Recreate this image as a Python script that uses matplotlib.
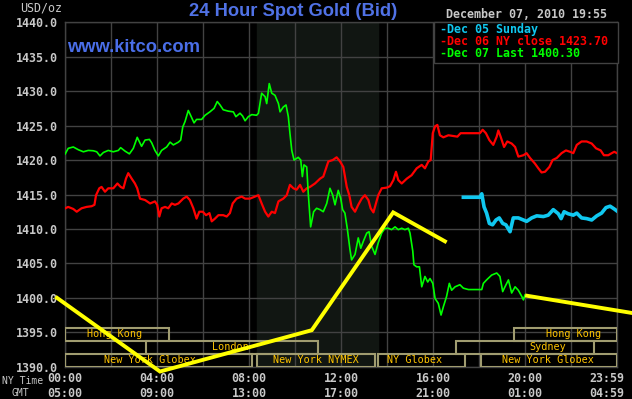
import matplotlib
matplotlib.use('Agg')
import matplotlib.pyplot as plt
import matplotlib.transforms as mtransforms
from matplotlib.patches import Rectangle

# Dec 07 (green), hours NY time vs price
green_h = [0.01, 0.14, 0.36, 0.58, 0.80, 1.01, 1.23, 1.38, 1.52, 1.67, 1.88, 2.10, 2.32, 2.42,
           2.61, 2.80, 2.97, 3.14, 3.33, 3.48, 3.67, 3.77, 3.91, 4.06, 4.20, 4.42, 4.57, 4.71,
           4.93, 5.03, 5.12, 5.22, 5.36, 5.46, 5.61, 5.72, 5.94, 6.09, 6.30, 6.48, 6.62, 6.74,
           6.88, 7.10, 7.32, 7.43, 7.61, 7.72, 7.83, 7.97, 8.12, 8.33, 8.41, 8.55, 8.70, 8.77,
           8.88, 8.99, 9.13, 9.28, 9.35, 9.49, 9.61, 9.71, 9.78, 9.86, 9.96, 10.14, 10.25, 10.32,
           10.39, 10.51, 10.58, 10.68, 10.81, 10.94, 11.09, 11.23, 11.38, 11.52, 11.64, 11.74,
           11.88, 11.99, 12.07, 12.17, 12.28, 12.39, 12.46, 12.61, 12.75, 12.86, 12.97, 13.12,
           13.22, 13.33, 13.48, 13.62, 13.77, 13.91, 14.06, 14.20, 14.35, 14.49, 14.64, 14.78,
           14.93, 15.00, 15.12, 15.17, 15.29, 15.41, 15.51, 15.65, 15.77, 15.87, 15.99, 16.09,
           16.23, 16.35, 16.45, 16.59, 16.71, 16.81, 16.96, 17.17, 17.32, 17.54, 17.75, 18.12,
           18.19, 18.33, 18.55, 18.77, 18.91, 19.03, 19.13, 19.28, 19.42, 19.57, 19.71, 19.86,
           19.93, 20.00]
green_p = [1420.9, 1421.7, 1421.9, 1421.5, 1421.2, 1421.4, 1421.35, 1421.2, 1420.6, 1421.1,
           1421.4, 1421.2, 1421.4, 1421.8, 1421.3, 1420.9, 1421.7, 1423.3, 1422.0, 1422.9,
           1423.0, 1422.5, 1421.4, 1420.6, 1421.4, 1421.9, 1422.6, 1422.2, 1422.6, 1422.9,
           1424.8, 1425.6, 1427.2, 1426.5, 1425.4, 1425.9, 1425.9, 1426.5, 1427.0, 1427.5,
           1428.5, 1428.0, 1427.3, 1427.1, 1427.0, 1426.3, 1426.8, 1426.4, 1425.7, 1426.3,
           1426.6, 1426.5, 1426.8, 1429.7, 1429.2, 1428.2, 1431.1, 1429.7, 1429.4, 1428.2,
           1427.0, 1427.7, 1428.0, 1426.3, 1423.9, 1421.4, 1420.0, 1420.4, 1420.0, 1417.6,
           1419.3, 1419.0, 1415.0, 1410.3, 1412.5, 1413.0, 1412.8, 1412.5, 1413.7, 1415.9,
           1414.9, 1413.5, 1415.6, 1414.4, 1412.8, 1412.3, 1409.9, 1407.0, 1405.5, 1406.3,
           1408.7, 1407.2, 1408.2, 1409.4, 1409.6, 1407.5, 1406.3, 1408.0, 1409.4, 1410.1,
           1410.1, 1409.9, 1410.3, 1409.9, 1410.1, 1409.9, 1410.1, 1409.4, 1406.8, 1404.8,
           1404.5, 1404.5, 1401.6, 1403.1, 1402.3, 1402.8, 1402.1, 1399.9, 1399.2, 1397.5,
           1398.7, 1400.2, 1402.1, 1401.1, 1401.6, 1401.9, 1401.4, 1401.2, 1401.2, 1401.2,
           1402.1, 1402.6, 1403.3, 1403.6, 1403.1, 1400.9, 1401.6, 1402.6, 1400.7, 1401.6,
           1401.1, 1400.2, 1399.7, 1400.4]

# Dec 06 (red)
red_h = [0.01, 0.14, 0.36, 0.51, 0.72, 0.94, 1.16, 1.28, 1.35, 1.49, 1.59, 1.74, 1.88, 2.10,
         2.28, 2.42, 2.54, 2.65, 2.75, 2.90, 3.04, 3.14, 3.26, 3.48, 3.70, 3.91, 4.01, 4.10,
         4.20, 4.35, 4.49, 4.64, 4.78, 4.93, 5.14, 5.29, 5.43, 5.58, 5.72, 5.84, 5.99, 6.13,
         6.28, 6.38, 6.52, 6.67, 6.88, 7.03, 7.17, 7.29, 7.46, 7.68, 7.83, 8.04, 8.26, 8.41,
         8.55, 8.70, 8.84, 8.99, 9.13, 9.28, 9.49, 9.64, 9.78, 9.93, 10.07, 10.22, 10.36, 10.51,
         10.65, 10.87, 11.09, 11.23, 11.35, 11.45, 11.64, 11.81, 11.96, 12.10, 12.25, 12.36,
         12.46, 12.61, 12.75, 12.90, 13.04, 13.19, 13.29, 13.41, 13.52, 13.62, 13.77, 13.99,
         14.13, 14.28, 14.39, 14.49, 14.64, 14.86, 15.07, 15.29, 15.51, 15.65, 15.80, 15.90,
         15.99, 16.09, 16.19, 16.30, 16.45, 16.67, 16.88, 17.06, 17.20, 17.46, 17.75, 18.04,
         18.16, 18.30, 18.45, 18.62, 18.77, 18.84, 18.94, 19.09, 19.23, 19.42, 19.57, 19.71,
         19.93, 20.07, 20.22, 20.43, 20.58, 20.72, 20.87, 21.06, 21.20, 21.38, 21.59, 21.78,
         21.96, 22.10, 22.25, 22.46, 22.68, 22.90, 23.09, 23.29, 23.43, 23.62, 23.77, 23.88,
         24.0]
red_p = [1413.0, 1413.2, 1412.9, 1412.5, 1413.0, 1413.2, 1413.3, 1413.5, 1414.9, 1415.9,
         1416.1, 1415.4, 1415.9, 1415.9, 1416.6, 1416.1, 1415.9, 1417.3, 1418.1, 1417.3,
         1416.6, 1415.9, 1414.4, 1414.2, 1413.7, 1414.0, 1413.5, 1411.8, 1413.0, 1413.2,
         1413.0, 1413.7, 1413.5, 1413.7, 1414.4, 1414.7, 1414.2, 1413.0, 1411.5, 1412.5,
         1412.5, 1412.0, 1412.3, 1411.1, 1411.5, 1412.0, 1412.0, 1411.8, 1412.3, 1413.7,
         1414.4, 1414.7, 1414.4, 1414.4, 1414.7, 1414.9, 1413.7, 1412.5, 1411.8, 1412.5,
         1412.3, 1414.0, 1414.4, 1414.9, 1416.4, 1415.9, 1415.7, 1416.4, 1415.4, 1415.9,
         1416.1, 1416.6, 1417.3, 1417.6, 1418.8, 1419.8, 1420.0, 1420.4, 1419.8, 1419.0,
         1416.1, 1414.9, 1413.2, 1412.5, 1413.5, 1414.4, 1414.9, 1414.2, 1413.0, 1412.4,
         1413.7, 1414.9, 1415.9, 1416.0, 1416.2, 1417.1, 1418.3, 1417.1, 1416.6, 1417.3,
         1417.8, 1418.8, 1419.3, 1418.8, 1419.8, 1420.0, 1423.9, 1424.9, 1425.1, 1423.6,
         1423.3, 1423.6, 1423.5, 1423.4, 1423.9, 1423.9, 1423.9, 1423.9, 1424.4, 1423.9,
         1422.9, 1422.2, 1423.4, 1424.3, 1423.4, 1421.9, 1422.7, 1422.4, 1421.9, 1420.5,
         1420.7, 1421.0, 1420.3, 1419.5, 1418.8, 1418.2, 1418.3, 1419.0, 1420.0, 1420.3,
         1421.0, 1421.4, 1421.2, 1421.0, 1422.2, 1422.7, 1422.7, 1422.4, 1421.7, 1421.4,
         1420.7, 1420.7, 1421.0, 1421.2, 1421.0]

# Dec 05 Sunday (cyan)
cyan_h = [17.32, 18.04, 18.12, 18.22, 18.33, 18.45, 18.59, 18.74, 18.88, 19.03, 19.17, 19.35,
          19.49, 19.71, 19.93, 20.07, 20.29, 20.51, 20.80, 21.01, 21.23, 21.45, 21.57, 21.70,
          21.88, 22.10, 22.25, 22.46, 22.68, 22.90, 23.12, 23.33, 23.52, 23.70, 23.88, 24.0]
cyan_p = [1414.6, 1414.6, 1415.1, 1413.2, 1412.3, 1410.8, 1410.6, 1411.3, 1411.6, 1410.8,
          1410.6, 1409.6, 1411.6, 1411.6, 1411.3, 1411.1, 1411.6, 1411.9, 1411.8, 1412.0,
          1412.8, 1412.2, 1411.5, 1412.5, 1412.2, 1412.0, 1412.3, 1411.6, 1411.5, 1411.3,
          1411.9, 1412.3, 1413.1, 1413.3, 1412.9, 1412.6]

# yellow annotation strokes
yel1_h = [-0.35, 4.13, 10.73, 14.27, 16.52]
yel1_p = [1400.0, 1389.3, 1395.3, 1412.4, 1408.2]
yel2_h = [20.09, 24.65]
yel2_p = [1400.3, 1397.8]

# trading sessions: (label, start, end, row, label hour)
sessions = [("Hong Kong", 0.0, 4.5, 0, 2.17),
            ("Hong Kong", 19.5, 24.0, 0, 22.1),
            ("London", 3.5, 11.0, 1, 7.17),
            ("Sydney", 17.0, 23.0, 1, 21.0),
            ("New York Globex", 0.0, 8.13, 2, 3.7),
            ("New York NYMEX", 8.35, 13.5, 2, 10.9),
            ("NY Globex", 13.6, 17.4, 2, 15.2),
            ("New York Globex", 18.1, 24.0, 2, 21.0)]
nymex_span = (8.35, 13.6)

ny_ticks = [0, 4, 8, 12, 16, 20, 24]
ny_labels = ["00:00", "04:00", "08:00", "12:00", "16:00", "20:00", "23:59"]
gmt_labels = ["05:00", "09:00", "13:00", "17:00", "21:00", "01:00", "04:59"]

W, H = 632, 399
def fx(px):
    return px / W
def fy(py):
    return 1 - py / H

mono = 'DejaVu Sans Mono'
gray = '#c8c8c8'
gridc = '#424242'

fig = plt.figure(figsize=(W / 100, H / 100), dpi=100, facecolor='black')
ax = fig.add_axes([fx(65), fy(366.7), fx(617) - fx(65), fy(22.3) - fy(366.7)])
ax.set_facecolor('black')
ax.set_xlim(0, 24)
ax.set_ylim(1390, 1440)
ax.set_xticks(range(0, 25, 2))
ax.set_xticklabels([])
ax.set_yticks(range(1390, 1441, 5))
ax.set_yticklabels(['%.1f' % v for v in range(1390, 1441, 5)],
                   fontfamily=mono, fontweight='bold', fontsize=8.4, color=gray)
ax.tick_params(length=0, pad=5)
ax.grid(True, color=gridc, linewidth=1.0)
ax.set_axisbelow(True)
for s in ax.spines.values():
    s.set_color(gridc)
    s.set_linewidth(1.0)

ax.axvspan(nymex_span[0], nymex_span[1], color='#111612', zorder=0.5)

ax.plot(red_h, red_p, color='#ff0000', lw=1.6, zorder=3)
ax.plot(cyan_h, cyan_p, color='#10c8f0', lw=2.6, zorder=3)
ax.plot(green_h, green_p, color='#00ff00', lw=1.2, zorder=4)

trans = mtransforms.blended_transform_factory(ax.transData, ax.transAxes)
row_bounds = [(0.0746, 0.1124), (0.0369, 0.0746), (0.0, 0.0369)]
for name, a, b, row, lh in sessions:
    y0, y1 = row_bounds[row]
    ax.add_patch(Rectangle((a, y0), b - a, y1 - y0, transform=trans, fill=False,
                           edgecolor='#a09c70', lw=1.5, zorder=5))
    ax.text(lh, (y0 + y1) / 2, name, transform=trans, ha='center', va='center',
            fontfamily=mono, fontsize=7.3, color='#ffc400', zorder=6)

ax.plot(yel1_h, yel1_p, color='#ffff00', lw=2.8, zorder=8, clip_on=False,
        solid_joinstyle='miter')
ax.plot(yel2_h, yel2_p, color='#ffff00', lw=2.8, zorder=8, clip_on=False)

for h, l1, l2 in zip(ny_ticks, ny_labels, gmt_labels):
    off = -10 if h == 24 else 0
    t = trans + mtransforms.ScaledTranslation(off / 100, 0, fig.dpi_scale_trans)
    ax.text(h, -0.034, l1, transform=t, ha='center', va='center', fontfamily=mono,
            fontweight='bold', fontsize=8.4, color=gray)
    ax.text(h, -0.077, l2, transform=t, ha='center', va='center', fontfamily=mono,
            fontweight='bold', fontsize=8.4, color=gray)

fig.text(fx(23), fy(380.5), "NY Time", ha='center', va='center', fontfamily=mono,
         fontsize=7.0, color=gray)
fig.text(fx(20), fy(392.5), "GMT", ha='center', va='center', fontfamily=mono,
         fontsize=7.0, color=gray)
fig.text(fx(41), fy(8), "USD/oz", ha='center', va='center', fontfamily=mono,
         fontsize=8.4, color=gray)

fig.text(fx(293), fy(11), "24 Hour Spot Gold (Bid)", ha='center', va='center',
         fontfamily='Liberation Sans', fontweight='bold', fontsize=13.2, color='#5072e6')
fig.text(fx(67), fy(48), "www.kitco.com", ha='left', va='center',
         fontfamily='Liberation Sans', fontweight='bold', fontsize=13.2, color='#4a6ee8')
fig.text(fx(607), fy(15), "December 07, 2010 19:55", ha='right', va='center',
         fontfamily=mono, fontweight='bold', fontsize=8.4, color=gray)

# legend box
fig.patches.append(Rectangle((fx(434), fy(63)), fx(618) - fx(434), fy(22.3) - fy(63),
                             transform=fig.transFigure, facecolor='black',
                             edgecolor=gridc, lw=1.0, zorder=10))
leg = [("-Dec 05 Sunday", '#10c8f0'),
       ("-Dec 06 NY close 1423.70", '#ff0000'),
       ("-Dec 07 Last 1400.30", '#00ff00')]
for i, (txt, c) in enumerate(leg):
    fig.text(fx(440), fy(29.5 + 12.2 * i), txt, ha='left', va='center', fontfamily=mono,
             fontweight='bold', fontsize=8.4, color=c, zorder=11)

fig.savefig('out.png', dpi=100, facecolor='black')
